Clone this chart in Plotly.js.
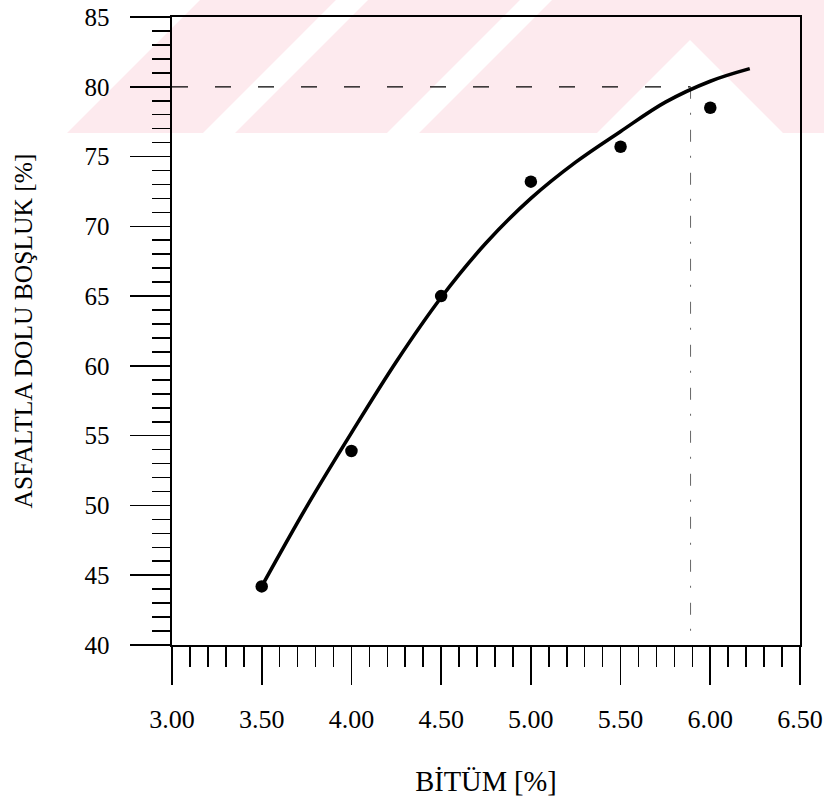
<!DOCTYPE html>
<html>
<head>
<meta charset="utf-8">
<script src="https://cdn.plot.ly/plotly-3.0.1.min.js"></script>
<style>
html, body { margin: 0; padding: 0; background: #ffffff; }
#chart { width: 824px; height: 807px; }
</style>
</head>
<body>
<div id="chart"></div>
<script>
// Measured points
const bitumen = [3.50, 4.00, 4.50, 5.00, 5.50, 6.00];
const vfa = [44.2, 53.9, 65.0, 73.2, 75.7, 78.5];

// Fitted curve
const curveX = [3.50, 3.75, 4.00, 4.25, 4.50, 4.75, 5.00, 5.25, 5.50, 5.75, 6.00, 6.22];
const curveY = [44.2, 49.9, 55.2, 60.3, 64.9, 68.8, 72.0, 74.6, 76.8, 78.9, 80.4, 81.3];

// Reference (design) values
const targetVFA = 80;
const optimumBitumen = 5.89;

// Axis ticks
const xTickVals = [3.00, 3.50, 4.00, 4.50, 5.00, 5.50, 6.00, 6.50];
const xTickText = ['3.00', '3.50', '4.00', '4.50', '5.00', '5.50', '6.00', '6.50'];
const yTickVals = [40, 45, 50, 55, 60, 65, 70, 75, 80, 85];
const yTickText = ['40', '45', '50', '55', '60', '65', '70', '75', '80', '85'];

const xRange = [xTickVals[0], xTickVals[xTickVals.length - 1]];
const yRange = [yTickVals[0], yTickVals[yTickVals.length - 1]];

const serif = 'Liberation Serif, Times New Roman, serif';

// --- layout geometry (pixels) ---
const W = 824, H = 807;
const M = { l: 172, r: 24, t: 17, b: 162 };
const pw = W - M.l - M.r, ph = H - M.t - M.b;
function px(x, y) { return ((x - M.l) / pw).toFixed(4) + ',' + ((H - M.b - y) / ph).toFixed(4); }
function poly(pts) { return 'M' + pts.map(p => px(p[0], p[1])).join('L') + 'Z'; }

// faint scanned watermark (pink band with white diagonal stripes)
const pink = '#fdeaee';
const bandBottom = 133;
function wm(pts, color) {
  return { type: 'path', xref: 'paper', yref: 'paper', layer: 'below', line: { width: 0 }, fillcolor: color, path: poly(pts) };
}
const watermark = [
  wm([[0, 0], [W, 0], [W, bandBottom], [0, bandBottom]], pink),
  wm([[0, 0], [200, 0], [67, bandBottom], [0, bandBottom]], '#ffffff'),
  wm([[336, 0], [368, 0], [235, bandBottom], [203, bandBottom]], '#ffffff'),
  wm([[520, 0], [552, 0], [419, bandBottom], [387, bandBottom]], '#ffffff'),
  wm([[690, 40], [783, bandBottom], [597, bandBottom]], '#ffffff')
];

const traces = [
  {
    x: [xRange[0], optimumBitumen], y: [targetVFA, targetVFA],
    mode: 'lines', line: { color: '#000000', width: 1.3, dash: '16px,27px' },
    hoverinfo: 'skip', showlegend: false
  },
  {
    x: [optimumBitumen, optimumBitumen], y: [targetVFA, yRange[0]],
    mode: 'lines', line: { color: '#666666', width: 1, dash: '12px,14px,2px,15px' },
    hoverinfo: 'skip', showlegend: false
  },
  {
    x: curveX, y: curveY, mode: 'lines',
    line: { color: '#000000', width: 3.6, shape: 'spline', smoothing: 1 },
    showlegend: false
  },
  {
    x: bitumen, y: vfa, mode: 'markers',
    marker: { color: '#000000', size: 12.5 },
    showlegend: false
  }
];

const layout = {
  width: W, height: H,
  margin: M,
  paper_bgcolor: '#ffffff',
  plot_bgcolor: 'rgba(0,0,0,0)',
  showlegend: false,
  font: { family: serif, color: '#000000', size: 25 },
  shapes: watermark,
  xaxis: {
    range: xRange, tickvals: xTickVals, ticktext: xTickText,
    ticks: 'outside', ticklen: 38, tickwidth: 1.6, tickcolor: '#000000',
    ticklabelstandoff: 12,
    minor: { dtick: 0.1, ticks: 'outside', ticklen: 20, tickwidth: 1.6, tickcolor: '#000000', showgrid: false },
    showline: true, linecolor: '#000000', linewidth: 1.6, mirror: true,
    showgrid: false, zeroline: false,
    tickfont: { family: serif, size: 26, color: '#000000' },
    title: { text: 'BİTÜM [%]', font: { family: serif, size: 28.5, color: '#000000' }, standoff: 38 }
  },
  yaxis: {
    range: yRange, tickvals: yTickVals, ticktext: yTickText,
    ticks: 'outside', ticklen: 40, tickwidth: 1.6, tickcolor: '#000000',
    ticklabelstandoff: 16,
    minor: { dtick: 1, ticks: 'outside', ticklen: 18, tickwidth: 1.6, tickcolor: '#000000', showgrid: false },
    showline: true, linecolor: '#000000', linewidth: 1.6, mirror: true,
    showgrid: false, zeroline: false,
    tickfont: { family: serif, size: 25, color: '#000000' },
    title: { text: 'ASFALTLA DOLU BOŞLUK [%]', font: { family: serif, size: 25.5, color: '#000000' }, standoff: 44 }
  }
};

Plotly.newPlot('chart', traces, layout, { displayModeBar: false, staticPlot: true });
</script>
</body>
</html>
